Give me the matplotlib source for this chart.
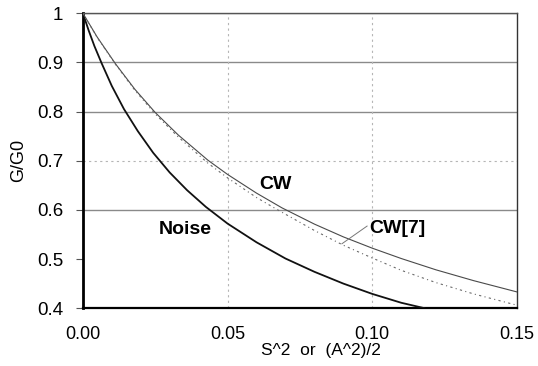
import matplotlib
matplotlib.use("Agg")
import matplotlib.pyplot as plt

# data
noise_x = [0, 0.002, 0.004, 0.0065, 0.01, 0.0142, 0.019, 0.0243, 0.03, 0.036,
           0.0425, 0.05, 0.06, 0.07, 0.08, 0.09, 0.10, 0.11, 0.118]
noise_y = [1.0, 0.965, 0.933, 0.898, 0.852, 0.805, 0.760, 0.716, 0.676, 0.640,
           0.606, 0.572, 0.534, 0.501, 0.474, 0.450, 0.429, 0.411, 0.40]

cw_x = [0, 0.005, 0.0114, 0.018, 0.025, 0.033, 0.0432, 0.05, 0.06, 0.0688,
        0.08, 0.09, 0.10, 0.11, 0.122, 0.135, 0.15]
cw_y = [1.0, 0.951, 0.896, 0.845, 0.798, 0.752, 0.701, 0.672, 0.634, 0.604,
        0.571, 0.545, 0.522, 0.501, 0.478, 0.456, 0.433]

cw7_x = [0, 0.005, 0.0114, 0.018, 0.025, 0.033, 0.0432, 0.05, 0.06, 0.067,
         0.08, 0.09, 0.10, 0.11, 0.122, 0.135, 0.15]
cw7_y = [1.0, 0.950, 0.895, 0.843, 0.795, 0.748, 0.695, 0.665, 0.625, 0.601,
         0.558, 0.528, 0.502, 0.477, 0.452, 0.429, 0.406]

xticks = [0.00, 0.05, 0.10, 0.15]
xtick_labels = ["0.00", "0.05", "0.10", "0.15"]
yticks = [0.4, 0.5, 0.6, 0.7, 0.8, 0.9, 1.0]
ytick_labels = ["0.4", "0.5", "0.6", "0.7", "0.8", "0.9", "1"]

plt.rcParams['font.family'] = ['Liberation Sans', 'DejaVu Sans']

fig = plt.figure(figsize=(5.38, 3.66), dpi=100)
ax = fig.add_axes([0.154, 0.158, 0.807, 0.806])
ax.set_xlim(0, 0.15)
ax.set_ylim(0.4, 1.0)

# grid
for v in [0.6, 0.8, 0.9, 1.0]:
    ax.axhline(v, color='#8a8a8a', lw=1.0, zorder=1)
ax.axhline(0.7, color='#b5b5b5', lw=0.8, ls=(0, (2, 3)), zorder=1)
for v in [0.05, 0.10]:
    ax.axvline(v, color='#b5b5b5', lw=0.8, ls=(0, (2, 3)), zorder=1)

ax.plot(noise_x, noise_y, color='#111111', lw=1.3, zorder=3)
ax.plot(cw_x, cw_y, color='#4a4a4a', lw=0.8, zorder=3)
ax.plot(cw7_x, cw7_y, color='#6a6a6a', lw=0.8, ls=(0, (2, 3, 1, 3)), zorder=3)

# leader line for CW[7]
ax.plot([0.0895, 0.0982], [0.531, 0.567], color='#777777', lw=0.7, zorder=3)

ax.text(0.0665, 0.652, "CW", fontsize=14, fontweight='bold', ha='center', va='center')
ax.text(0.0353, 0.560, "Noise", fontsize=14, fontweight='bold', ha='center', va='center')
ax.text(0.1087, 0.562, "CW[7]", fontsize=14, fontweight='bold', ha='center', va='center')

ax.set_xticks(xticks)
ax.set_xticklabels(xtick_labels, fontsize=13)
ax.set_yticks(yticks)
ax.set_yticklabels(ytick_labels, fontsize=13.5)
ax.tick_params(axis='y', direction='out', length=5, width=0.8, pad=9, color='#555555')
ax.tick_params(axis='x', direction='out', length=0, pad=13)

ax.set_xlabel("S^2  or  (A^2)/2", fontsize=12.5)
ax.xaxis.set_label_coords(0.548, -0.118)
ax.set_ylabel("G/G0", fontsize=13)
ax.yaxis.set_label_coords(-0.128, 0.5)

ax.spines['left'].set_linewidth(2.0)
ax.spines['left'].set_color('black')
ax.spines['bottom'].set_linewidth(1.6)
ax.spines['bottom'].set_color('black')
ax.spines['top'].set_linewidth(1.0)
ax.spines['top'].set_color('#555555')
ax.spines['right'].set_linewidth(1.0)
ax.spines['right'].set_color('#333333')

fig.savefig("out.png", dpi=100)
